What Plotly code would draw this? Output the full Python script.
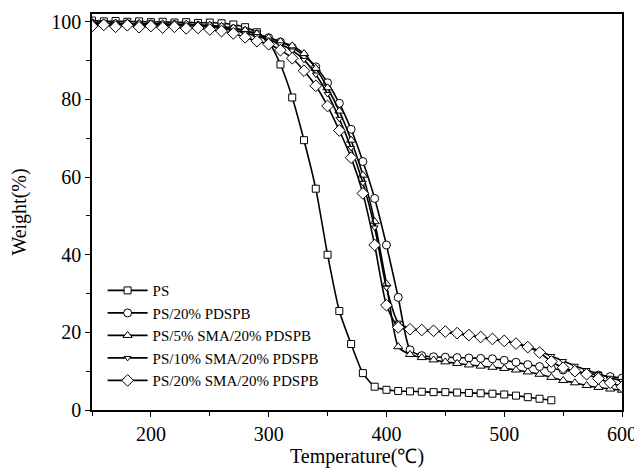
import plotly.graph_objects as go

# temperature grid (°C), one marker every 10 degrees
temp = list(range(150, 601, 10))
temp_ps = list(range(150, 541, 10))

w_ps = [100.3, 100.1, 100.2, 100.0, 100.1, 99.9, 100.0, 99.8, 99.9, 99.7,
        99.8, 99.6, 99.3, 98.6, 97.3, 94.8, 89.0, 80.5, 69.5, 57.0,
        40.0, 25.5, 17.0, 9.5, 6.0, 5.2, 4.9, 4.8, 4.7, 4.6,
        4.6, 4.5, 4.4, 4.3, 4.2, 4.0, 3.7, 3.3, 2.9, 2.5]

w_pdspb = [99.6, 99.5, 99.4, 99.5, 99.3, 99.4, 99.2, 99.3, 99.1, 99.0,
           98.9, 98.6, 98.2, 97.6, 96.8, 95.9, 94.8, 93.4, 91.2, 88.4,
           84.3, 79.0, 72.3, 64.0, 54.5, 42.5, 29.0, 15.5, 14.0, 13.7,
           13.6, 13.5, 13.4, 13.3, 13.2, 12.8, 12.3, 11.7, 11.2, 10.7,
           10.3, 9.9, 9.5, 9.0, 8.6, 8.2]

w_sma5 = [99.8, 99.6, 99.7, 99.5, 99.6, 99.4, 99.5, 99.3, 99.4, 99.2,
          99.1, 98.8, 98.4, 97.8, 96.9, 95.9, 94.9, 93.8, 91.8, 88.0,
          83.0, 77.0, 69.5, 60.5, 48.5, 32.5, 16.3, 14.3, 13.5, 12.9,
          12.4, 12.0, 11.6, 11.3, 11.0, 10.7, 10.3, 9.8, 9.2, 8.4,
          7.6, 7.0, 6.3, 5.8, 5.4, 5.1]

w_sma10 = [99.4, 99.3, 99.4, 99.2, 99.3, 99.1, 99.2, 99.0, 99.1, 98.9,
           98.7, 98.3, 97.8, 97.1, 96.3, 95.4, 94.2, 92.6, 90.2, 86.4,
           81.4, 75.0, 67.5, 58.5, 47.0, 31.5, 22.5, 21.0, 20.6, 20.3,
           20.0, 19.6, 19.2, 18.7, 18.2, 17.7, 17.1, 16.3, 15.2, 13.9,
           12.6, 11.4, 10.3, 9.3, 8.3, 7.5]

w_sma20 = [98.9, 99.2, 98.7, 99.1, 98.6, 98.9, 98.5, 98.7, 98.3, 98.4,
           98.0, 97.6, 97.0, 96.0, 95.0, 94.2, 92.7, 90.6, 87.4, 83.5,
           78.3, 72.0, 65.0, 55.8, 42.5, 27.0, 21.3, 20.8, 20.6, 20.4,
           20.2, 19.8, 19.3, 18.8, 18.3, 17.8, 17.1, 16.2, 14.8, 12.5,
           10.9, 10.0, 9.2, 8.1, 7.0, 6.0]

series = [
    ('PS', temp_ps, w_ps, 'square', 7),
    ('PS/20% PDSPB', temp, w_pdspb, 'circle', 8),
    ('PS/5% SMA/20% PDSPB', temp, w_sma5, 'triangle-up', 8),
    ('PS/10% SMA/20% PDSPB', temp, w_sma10, 'triangle-down', 6),
    ('PS/20% SMA/20% PDSPB', temp, w_sma20, 'diamond', 9),
]

serif = 'Liberation Serif, Times New Roman, serif'

fig = go.Figure()
for name, x, y, sym, sz in series:
    fig.add_trace(go.Scatter(
        x=x, y=y, name=name, mode='lines+markers',
        line=dict(color='black', width=1.6, shape='spline', smoothing=0.6),
        marker=dict(symbol=sym, size=sz, color='white',
                    line=dict(color='black', width=1)),
    ))

axis_style = dict(showline=True, linecolor='black', linewidth=1.6, mirror=True,
                  ticks='outside', ticklen=5, tickwidth=1.2, tickcolor='black',
                  showgrid=False, zeroline=False, automargin=False,
                  tickfont=dict(family=serif, size=20, color='black'),
                  minor=dict(ticks='outside', ticklen=4, tickwidth=1.2,
                             tickcolor='black', showgrid=False))

fig.update_xaxes(range=[150, 600], dtick=100, tick0=0, minor_dtick=50,
                 title=dict(text='Temperature(℃)', standoff=4,
                            font=dict(family=serif, size=20, color='black')),
                 **axis_style)
fig.update_yaxes(range=[0, 102], dtick=20, tick0=0, minor_dtick=10,
                 title=dict(text='Weight(%)', standoff=22,
                            font=dict(family=serif, size=20, color='black')),
                 **axis_style)

# page body adds an 8px margin, so the figure is sized and offset to fit
fig.update_layout(
    template='none',
    width=634, height=461,
    margin=dict(l=84, r=20, t=6, b=59),
    plot_bgcolor='white', paper_bgcolor='white',
    legend=dict(x=0.02, y=0.343, xanchor='left', yanchor='top',
                bgcolor='rgba(0,0,0,0)', itemwidth=40, tracegroupgap=0,
                font=dict(family=serif, size=15, color='black')),
)

fig.write_html("out.html")
